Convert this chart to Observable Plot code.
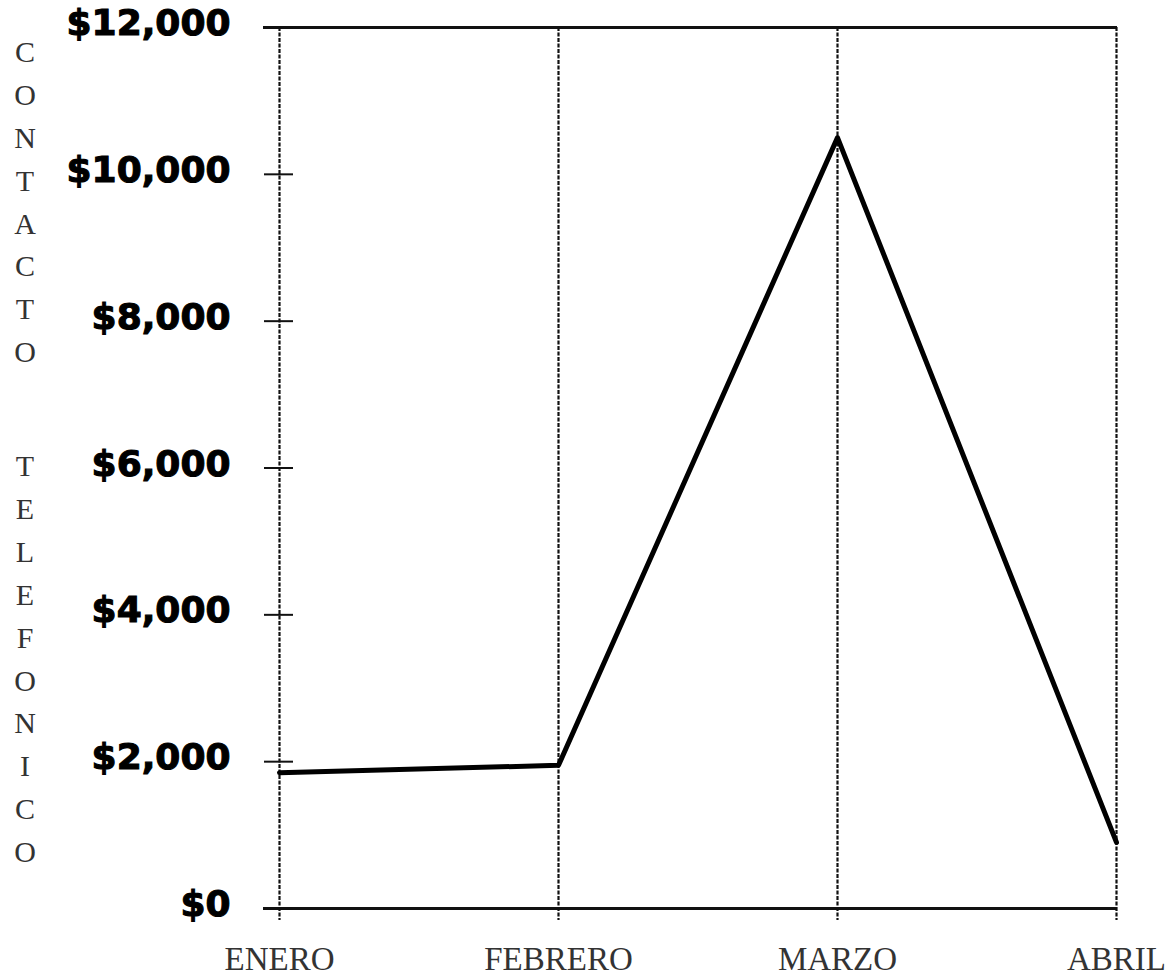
<!DOCTYPE html>
<html>
<head>
<meta charset="utf-8">
<script src="https://cdn.jsdelivr.net/npm/d3@7"></script>
<script src="https://cdn.jsdelivr.net/npm/@observablehq/plot@0.6"></script>
<style>
  html, body { margin: 0; padding: 0; background: #fff; overflow: hidden; }
  #wrap { position: relative; width: 1176px; height: 978px; }
  #wrap svg g[aria-label="y-axis tick label"] text { stroke: #000; stroke-width: 1.1px; }
  #ytitle {
    position: absolute; left: 3px; top: 31px; width: 44px;
    font-family: "Liberation Serif", "DejaVu Serif", serif;
    font-size: 30px; color: #333; text-align: center;
  }
  #ytitle div { height: 42.9px; line-height: 42.9px; }
  #ytitle div.gap { height: 71px; }
</style>
</head>
<body>
<div id="wrap"></div>
<script>
// Monthly phone-contact totals
const months = ["ENERO", "FEBRERO", "MARZO", "ABRIL"];
const values = [1850, 1950, 10500, 900];
const yTicks = [0, 2000, 4000, 6000, 8000, 10000, 12000];
const yTitle = "CONTACTO TELEFONICO";

const data = months.map((month, i) => ({month, value: values[i]}));

const chart = Plot.plot({
  width: 1176,
  height: 978,
  marginLeft: 278,
  marginRight: 59,
  marginTop: 27,
  marginBottom: 70,
  x: {type: "point", domain: months, padding: 0},
  y: {domain: [0, 12000]},
  marks: [
    // dashed verticals at each month (the first one doubles as the y axis)
    Plot.ruleX(months, {
      x: d => d, y1: 12000, y2: 0, insetBottom: -12,
      stroke: "#111", strokeWidth: 2.2, strokeDasharray: "4,1.5"
    }),
    // top frame line and bottom axis
    Plot.ruleY([0, 12000], {
      y: d => d, insetLeft: -15, stroke: "#111", strokeWidth: 3
    }),
    // y ticks crossing the axis
    Plot.ruleY(yTicks, {
      y: d => d, x1: () => months[0], x2: () => months[0],
      insetLeft: -15, insetRight: -14, stroke: "#111", strokeWidth: 2
    }),
    Plot.axisY({
      ticks: yTicks, tickSize: 0, tickPadding: 48,
      tickFormat: d3.format("$,"), label: null, dy: -4,
      fontSize: 36, fontWeight: "bold", fontFamily: "DejaVu Sans", fill: "#000"
    }),
    Plot.axisX({
      tickSize: 0, tickPadding: 38, label: null,
      fontSize: 33, fontFamily: "Liberation Serif", fill: "#333"
    }),
    Plot.line(data, {x: "month", y: "value", stroke: "#000", strokeWidth: 5})
  ]
});

const wrap = document.getElementById("wrap");
wrap.appendChild(chart);

// vertical stacked axis title
const yt = document.createElement("div");
yt.id = "ytitle";
for (const ch of yTitle) {
  const el = document.createElement("div");
  if (ch === " ") el.className = "gap";
  else el.textContent = ch;
  yt.appendChild(el);
}
wrap.appendChild(yt);
</script>
</body>
</html>
